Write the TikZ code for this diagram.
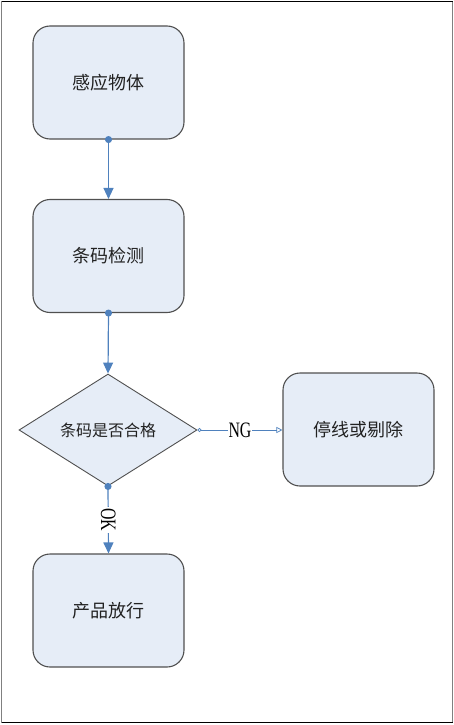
\documentclass[tikz,border=0pt]{standalone}
\usepackage{fontspec}
\setmainfont{Liberation Serif}
\newfontfamily\cjk{Noto Sans CJK SC}
\newfontfamily\narrowserif[FakeStretch=0.72]{Liberation Serif}
\usetikzlibrary{shapes.geometric,arrows.meta}
\definecolor{boxfill}{HTML}{E6EDF7}
\definecolor{boxdraw}{HTML}{505050}
\definecolor{linkblue}{HTML}{4F81BD}
\definecolor{txt}{HTML}{222222}
\tikzset{
  procbox/.style={draw=boxdraw, line width=1.1pt, fill=boxfill, rounded corners=17pt,
    minimum width=151pt, minimum height=113pt, inner sep=0pt,
    font=\cjk\fontsize{18}{20}\selectfont, text=txt},
  decbox/.style={diamond, draw=boxdraw, line width=0.9pt, fill=boxfill,
    minimum width=178pt, minimum height=112pt, inner sep=0pt,
    font=\cjk\fontsize{16}{18}\selectfont, text=txt},
  flow/.style={draw=linkblue, line width=1.2pt, {Circle[length=7pt]}-{Triangle[length=11pt,width=10pt]}, shorten <=-3.5pt},
  thinflow/.style={draw=linkblue, line width=0.7pt, {Circle[open,length=4pt]}-{Triangle[open,length=6pt,width=6pt]}},
  lbl/.style={fill=white, inner sep=1pt, font=\narrowserif\fontsize{22}{24}\selectfont, text=black}
}
\begin{document}
\begin{tikzpicture}[x=1pt,y=-1pt]
\useasboundingbox (0,0) rectangle (454,725);
\draw[gray, line width=1.5pt] (1.5,1.5) -- (1.5,722.5) (452.5,1.5) -- (452.5,722.5);
\draw[black, line width=1.5pt] (1.5,1.5) -- (452.5,1.5) (1.5,722.5) -- (452.5,722.5);

\node[procbox] (sense) at (108.5,82.5) {感应物体};
\node[procbox] (scan) at (108.5,256) {条码检测};
\node[decbox] (check) at (108,430) {条码是否合格};
\node[procbox] (stop) at (358.5,429.5) {停线或剔除};
\node[procbox] (pass) at (108.5,610.5) {产品放行};

\draw[flow] (sense.south) -- (scan.north);
\draw[flow] (scan.south) -- (check.north);
\draw[thinflow] (check.east) -- node[lbl] {NG} (check.east -| stop.west);
\draw[flow] (check.south) -- node[lbl, rotate=-90, inner sep=2pt] {OK} (pass.north);
\end{tikzpicture}
\end{document}
